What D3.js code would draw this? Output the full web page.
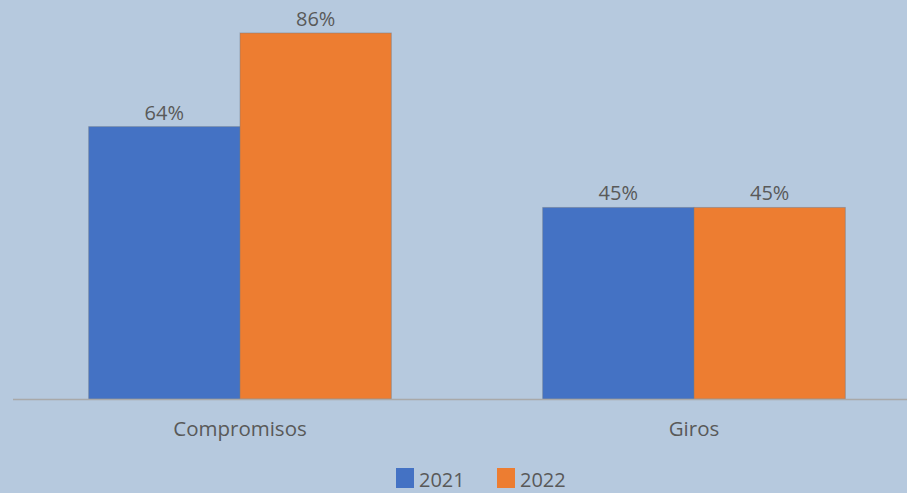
<!DOCTYPE html>
<html>
<head>
<meta charset="utf-8">
<script src="https://cdn.jsdelivr.net/npm/d3@7"></script>
<style>
  html, body { margin: 0; padding: 0; background: #b6c9de; }
  svg { display: block; }
</style>
</head>
<body>
<svg id="chart"></svg>
<script>
// [A] Datos -------------------------------------------------------------------
const categories = ["Compromisos", "Giros"];
const seriesNames = ["2021", "2022"];
const values2021 = [64, 45];
const values2022 = [86, 45];
const colors = ["#4472c4", "#ed7d31"];

// [B] Configuración -----------------------------------------------------------
const width = 907;
const height = 493;
const baseY = 399; // línea base del eje

const svg = d3.select("#chart")
    .attr("width", width)
    .attr("height", height);

svg.append("rect")
    .attr("width", width)
    .attr("height", height)
    .attr("fill", "#b6c9de");

// [B.1] Escalas
const x0 = d3.scaleBand()
    .domain(categories)
    .range([13, 921])
    .paddingInner(1 / 3)
    .paddingOuter(1 / 6);

const x1 = d3.scaleBand()
    .domain(seriesNames)
    .range([0, x0.bandwidth()]);

const y = d3.scaleLinear()
    .domain([0, 100])
    .range([baseY, baseY - 425.6]);

const rows = categories.map((c, i) => ({
    category: c,
    values: [values2021[i], values2022[i]]
}));

// [C] Barras ------------------------------------------------------------------
const groups = svg.selectAll("g.group")
    .data(rows)
    .join("g")
    .attr("class", "group")
    .attr("transform", d => `translate(${x0(d.category)},0)`);

groups.selectAll("rect")
    .data(d => d.values.map((v, j) => ({ key: seriesNames[j], value: v, j })))
    .join("rect")
    .attr("x", d => x1(d.key))
    .attr("y", d => y(d.value))
    .attr("width", x1.bandwidth())
    .attr("height", d => baseY - y(d.value))
    .attr("fill", d => colors[d.j])
    .attr("stroke", "rgba(110,120,135,0.45)")
    .attr("stroke-width", 1);

// [C.1] Etiquetas de datos
groups.selectAll("text.lbl")
    .data(d => d.values.map((v, j) => ({ key: seriesNames[j], value: v })))
    .join("text")
    .attr("class", "lbl")
    .attr("x", d => x1(d.key) + x1.bandwidth() / 2)
    .attr("y", d => y(d.value) - 7)
    .attr("text-anchor", "middle")
    .attr("font-family", "Open Sans, sans-serif")
    .attr("font-size", 20)
    .attr("fill", "#595959")
    .text(d => d.value + "%");

// [D] Eje X -------------------------------------------------------------------
svg.append("line")
    .attr("x1", 13)
    .attr("x2", width)
    .attr("y1", baseY + 0.5)
    .attr("y2", baseY + 0.5)
    .attr("stroke", "#a9a9a9")
    .attr("stroke-width", 1.5);

svg.selectAll("text.cat")
    .data(categories)
    .join("text")
    .attr("class", "cat")
    .attr("x", d => x0(d) + x0.bandwidth() / 2)
    .attr("y", 436)
    .attr("text-anchor", "middle")
    .attr("font-family", "Open Sans, sans-serif")
    .attr("font-size", 20.5)
    .attr("fill", "#595959")
    .text(d => d);

// [E] Leyenda -----------------------------------------------------------------
// (subida unos px para que el texto no quede cortado en el borde)
const legendX = [396, 497];
const legend = svg.selectAll("g.legend")
    .data(seriesNames)
    .join("g")
    .attr("class", "legend")
    .attr("transform", (d, i) => `translate(${legendX[i]},468)`);

legend.append("rect")
    .attr("width", 18)
    .attr("height", 20)
    .attr("fill", (d, i) => colors[i]);

legend.append("text")
    .attr("x", 23)
    .attr("y", 19)
    .attr("font-family", "Open Sans, sans-serif")
    .attr("font-size", 20)
    .attr("fill", "#595959")
    .text(d => d);
</script>
</body>
</html>
